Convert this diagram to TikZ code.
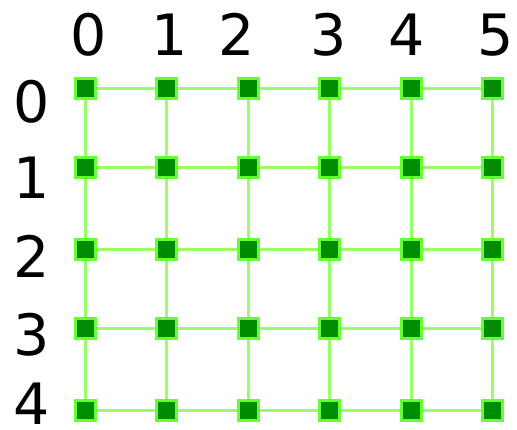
\documentclass[tikz,border=0pt]{standalone}
\usepackage{fontspec}
\setmainfont{DejaVu Sans}
\definecolor{nodefill}{HTML}{008C00}
\definecolor{nodeborder}{HTML}{66FF33}
\definecolor{edgecol}{HTML}{99FF66}
\begin{document}
\begin{tikzpicture}[x=1pt,y=-1pt,
  gnode/.style={rectangle,draw=nodeborder,fill=nodefill,line width=3pt,minimum size=20pt,inner sep=0pt},
  edge/.style={draw=edgecol,line width=3pt},
  lab/.style={font=\fontsize{57}{57}\selectfont,anchor=base,inner sep=0pt}]
\useasboundingbox (0,0) rectangle (517,429);
\def\xs{{85,166,248,329,411,492}}
\def\ys{{88,167,249,328,410}}
% labels
\node[lab] (c0) at (89,55) {0};
\node[lab] (c1) at (170,55) {1};
\node[lab] (c2) at (237,55) {2};
\node[lab] (c3) at (329,55) {3};
\node[lab] (c4) at (407,55) {4};
\node[lab] (c5) at (496,55) {5};
\node[lab] (r0) at (32,122) {0};
\node[lab] (r1) at (32,198) {1};
\node[lab] (r2) at (32,277) {2};
\node[lab] (r3) at (32,355) {3};
\node[lab] (r4) at (32,424) {4};
% coordinates for nodes
\foreach \i in {0,...,5}{
  \foreach \j in {0,...,4}{
    \pgfmathsetmacro{\xx}{\xs[\i]}
    \pgfmathsetmacro{\yy}{\ys[\j]}
    \coordinate (p\i\j) at (\xx,\yy);
  }
}
% edges
\foreach \i in {0,...,5}{
  \foreach \j [count=\k from 1] in {0,...,3}{
    \draw[edge] (p\i\j) -- (p\i\k);
  }
}
\foreach \j in {0,...,4}{
  \foreach \i [count=\k from 1] in {0,...,4}{
    \draw[edge] (p\i\j) -- (p\k\j);
  }
}
% nodes
\foreach \i in {0,...,5}{
  \foreach \j in {0,...,4}{
    \node[gnode] (n\i\j) at (p\i\j) {};
  }
}
\end{tikzpicture}
\end{document}
